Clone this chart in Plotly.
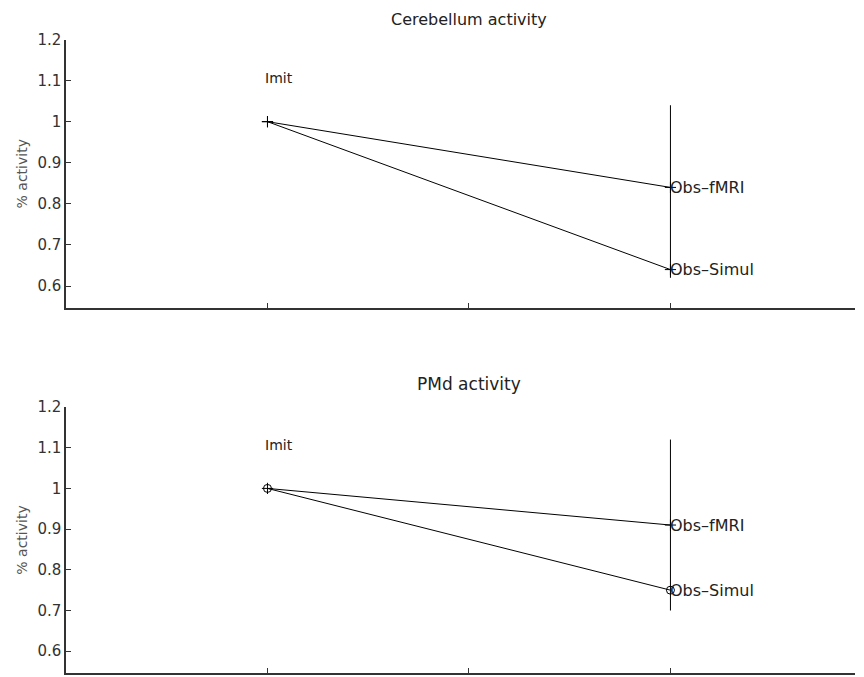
import plotly.graph_objects as go

conditions_x = [1, 3]
top_title = "Cerebellum activity"
bottom_title = "PMd activity"

cereb_fmri = [1.0, 0.84]
cereb_simul = [1.0, 0.64]
cereb_vline = [0.62, 1.04]

pmd_fmri = [1.0, 0.91]
pmd_simul = [1.0, 0.75]
pmd_vline = [0.70, 1.12]

imit_label_y = 1.1
y_ticks = [0.6, 0.7, 0.8, 0.9, 1.0, 1.1, 1.2]
y_tick_text = ["0.6", "0.7", "0.8", "0.9", "1", "1.1", "1.2"]
x_ticks = [1, 2, 3]

OFF = 8  # page body margin
W, H = 864 - OFF, 677 - OFF
ml, mr, mt, mb = 66 - OFF, 9, 2, 2
ph = H - mt - mb

def fy(px):  # screen y -> paper fraction
    return (OFF + H - mb - px) / ph

def dom(top_px, bot_px):
    return [fy(bot_px), fy(top_px)]

fig = go.Figure()
FONT = "DejaVu Sans, Liberation Sans, sans-serif"
line = dict(color="black", width=1)

panels = [
    ("", "y", cereb_fmri, cereb_simul, cereb_vline, "cross-thin"),
    ("2", "y2", pmd_fmri, pmd_simul, pmd_vline, "circle-open"),
]
for suf, yref, fmri, simul, vline, m2 in panels:
    xa = "x" + suf
    fig.add_trace(go.Scatter(x=conditions_x, y=fmri, mode="lines+markers", xaxis=xa, yaxis=yref,
                             line=line, marker=dict(symbol="cross-thin", size=8, line=dict(color="black", width=1)),
                             showlegend=False))
    fig.add_trace(go.Scatter(x=conditions_x, y=simul, mode="lines+markers", xaxis=xa, yaxis=yref,
                             line=line, marker=dict(symbol=m2, size=8, color="black", line=dict(color="black", width=1)),
                             showlegend=False))
    fig.add_trace(go.Scatter(x=[conditions_x[1], conditions_x[1]], y=vline, mode="lines", xaxis=xa, yaxis=yref,
                             line=line, showlegend=False))
    fig.add_annotation(x=conditions_x[0], y=imit_label_y, text="Imit", xref=xa, yref=yref,
                       showarrow=False, xanchor="left", yanchor="middle", xshift=-4, yshift=3,
                       font=dict(size=14, color="#222", family=FONT))
    fig.add_annotation(x=conditions_x[1], y=fmri[1], text="Obs\u2013fMRI", xref=xa, yref=yref,
                       showarrow=False, xanchor="left", yanchor="middle", xshift=-2,
                       font=dict(size=16, color="#222", family=FONT))
    fig.add_annotation(x=conditions_x[1], y=simul[1], text="Obs\u2013Simul", xref=xa, yref=yref,
                       showarrow=False, xanchor="left", yanchor="middle", xshift=-2,
                       font=dict(size=16, color="#222", family=FONT))

axis_common = dict(showline=True, linecolor="#333", linewidth=1.5, showgrid=False, zeroline=False,
                   ticks="inside", ticklen=5, tickcolor="#333", mirror=False, automargin=False)
ytitle = dict(text="% activity", font=dict(size=14, color="#555", family=FONT), standoff=6)
tickf = dict(size=15, color="#333", family=FONT)
fig.update_layout(
    xaxis=dict(domain=[0, 1], range=[0, 3.916], tickvals=x_ticks, showticklabels=False, anchor="y", **axis_common),
    yaxis=dict(domain=dom(39.5, 308), range=[0.5465, 1.2], tickvals=y_ticks, ticktext=y_tick_text,
               title=ytitle, tickfont=tickf, anchor="x", **axis_common),
    xaxis2=dict(domain=[0, 1], range=[0, 3.916], tickvals=x_ticks, showticklabels=False, anchor="y2", **axis_common),
    yaxis2=dict(domain=dom(407, 673), range=[0.5465, 1.2], tickvals=y_ticks, ticktext=y_tick_text,
                title=ytitle, tickfont=tickf, anchor="x2", **axis_common),
    width=W, height=H, margin=dict(l=ml, r=mr, t=mt, b=mb, autoexpand=False),
    plot_bgcolor="white", paper_bgcolor="white",
)
fig.add_annotation(text=top_title, xref="x", x=2, yref="paper", y=fy(8.5), yanchor="top",
                   showarrow=False, font=dict(size=16, color="#222", family=FONT))
fig.add_annotation(text=bottom_title, xref="x2", x=2, yref="paper", y=fy(384), yanchor="middle",
                   showarrow=False, font=dict(size=17, color="#222", family=FONT))

fig.write_html("out.html")
